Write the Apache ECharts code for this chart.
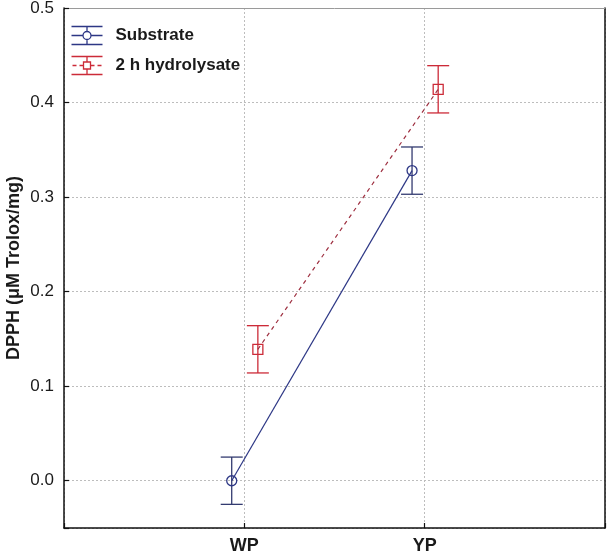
<!DOCTYPE html>
<html>
<head>
<meta charset="utf-8">
<script src="https://cdn.jsdelivr.net/npm/echarts@6/dist/echarts.min.js"></script>
<style>html,body{margin:0;padding:0;background:#fff;}#c{width:607px;height:554px;}</style>
</head>
<body>
<div id="c"></div>
<script>
// ---- data ----
const categories = ['WP', 'YP'];
const seriesNames = ['Substrate', '2 h hydrolysate'];
const substrateMean = [0.000, 0.328];
const substrateErr = [0.025, 0.025];
const hydrolysateMean = [0.139, 0.414];
const hydrolysateErr = [0.025, 0.025];
const yTicks = [0.0, 0.1, 0.2, 0.3, 0.4, 0.5];

// ---- style ----
const blue = '#2d3785';
const blueBar = '#333b70';
const red = '#cc2b38';
const redLine = '#9e2f40';
const dodge = [-0.07, 0.075];

function pts(means, k) {
  return means.map((m, i) => [i + 1 + dodge[k], m]);
}
function errs(means, e, k) {
  return means.map((m, i) => [i + 1 + dodge[k], m - e[i], m + e[i]]);
}
function errRender(color) {
  return function (params, api) {
    const x = api.value(0);
    const lo = api.coord([x, api.value(1)]);
    const hi = api.coord([x, api.value(2)]);
    const hw = 11;
    const st = { stroke: color, lineWidth: 1.3 };
    return {
      type: 'group',
      children: [
        { type: 'line', shape: { x1: lo[0], y1: lo[1], x2: hi[0], y2: hi[1] }, style: st },
        { type: 'line', shape: { x1: lo[0] - hw, y1: lo[1], x2: lo[0] + hw, y2: lo[1] }, style: st },
        { type: 'line', shape: { x1: hi[0] - hw, y1: hi[1], x2: hi[0] + hw, y2: hi[1] }, style: st }
      ]
    };
  };
}

const chart = echarts.init(document.getElementById('c'), null, { renderer: 'canvas' });
const gridLine = { show: true, lineStyle: { color: '#bdbdbd', type: [2, 2], width: 1 } };

chart.setOption({
  animation: false,
  backgroundColor: '#fff',
  grid: { left: 64, right: 2, top: 8, bottom: 26, containLabel: false, outerBoundsMode: 'none' },
  legend: {
    orient: 'vertical',
    left: 69, top: 24,
    padding: 0,
    itemWidth: 31, itemHeight: 18, itemGap: 7,
    selectedMode: false,
    textStyle: { fontFamily: 'Liberation Sans, Arial, sans-serif', fontWeight: 'bold', fontSize: 17, color: '#1a1a1a', padding: [0, 0, 0, 8] },
    data: [
      { name: seriesNames[0],
        icon: 'path://M0,0H31M0,18H31M15.5,0V5M15.5,13V18M0,9H11.5M19.5,9H31M11.5,9A4,4,0,1,0,19.5,9A4,4,0,1,0,11.5,9',
        itemStyle: { color: 'none', borderColor: blue, borderWidth: 1.3 } },
      { name: seriesNames[1],
        icon: 'path://M0,0H31M0,18H31M15.5,0V5.5M15.5,12.5V18M1,9H5M8,9H12M19,9H23M26,9H30M12,5.5H19V12.5H12Z',
        itemStyle: { color: 'none', borderColor: red, borderWidth: 1.3 } }
    ]
  },
  xAxis: [
    {
      type: 'value', min: 0, max: 3, interval: 1,
      axisLine: { show: true, onZero: false, lineStyle: { color: '#111', width: 1.5 } },
      axisTick: { show: true, inside: true, length: 5, lineStyle: { color: '#111', width: 1.2 } },
      axisLabel: {
        margin: 9,
        fontFamily: 'Liberation Sans, Arial, sans-serif', fontWeight: 'bold', fontSize: 18, color: '#1a1a1a',
        formatter: v => (Math.abs(v - Math.round(v)) < 1e-6 && categories[Math.round(v) - 1]) || ''
      },
      splitLine: gridLine
    },
    {
      type: 'value', position: 'top', min: 0, max: 3,
      axisLine: { show: true, onZero: false, lineStyle: { color: '#9a9a9a', width: 1 } },
      axisTick: { show: false }, axisLabel: { show: false }, splitLine: { show: false }
    }
  ],
  yAxis: [
    {
      type: 'value', min: -0.05, max: 0.5, splitNumber: 5,
      name: 'DPPH (μM Trolox/mg)', nameLocation: 'middle', nameGap: 41, nameMoveOverlap: false,
      nameTextStyle: { fontFamily: 'Liberation Sans, Arial, sans-serif', fontWeight: 'bold', fontSize: 18, color: '#1a1a1a' },
      axisLine: { show: true, onZero: false, lineStyle: { color: '#111', width: 1.5 } },
      axisTick: { show: true, inside: true, length: 5, lineStyle: { color: '#111', width: 1.2 } },
      axisLabel: {
        margin: 10,
        fontFamily: 'Liberation Sans, Arial, sans-serif', fontSize: 17, color: '#1a1a1a',
        formatter: v => (yTicks.some(t => Math.abs(t - v) < 1e-6) ? v.toFixed(1) : '')
      },
      splitLine: gridLine
    },
    {
      type: 'value', position: 'right', min: -0.05, max: 0.5,
      axisLine: { show: true, onZero: false, lineStyle: { color: '#111', width: 1.5 } },
      axisTick: { show: false }, axisLabel: { show: false }, splitLine: { show: false }
    }
  ],
  series: [
    {
      name: seriesNames[0], type: 'line', data: pts(substrateMean, 0), z: 3,
      symbol: 'circle', symbolSize: 10,
      lineStyle: { color: blue, width: 1.2 },
      itemStyle: { color: 'rgba(255,255,255,0)', borderColor: blue, borderWidth: 1.3 }
    },
    {
      name: seriesNames[1], type: 'line', data: pts(hydrolysateMean, 1), z: 3,
      symbol: 'rect', symbolSize: 10,
      lineStyle: { color: redLine, width: 1.2, type: [4, 4] },
      itemStyle: { color: 'rgba(255,255,255,0)', borderColor: red, borderWidth: 1.3 }
    },
    {
      type: 'custom', data: errs(substrateMean, substrateErr, 0), renderItem: errRender(blueBar), z: 2,
      encode: { x: 0, y: [1, 2] }
    },
    {
      type: 'custom', data: errs(hydrolysateMean, hydrolysateErr, 1), renderItem: errRender(red), z: 2,
      encode: { x: 0, y: [1, 2] }
    }
  ]
});
</script>
</body>
</html>
